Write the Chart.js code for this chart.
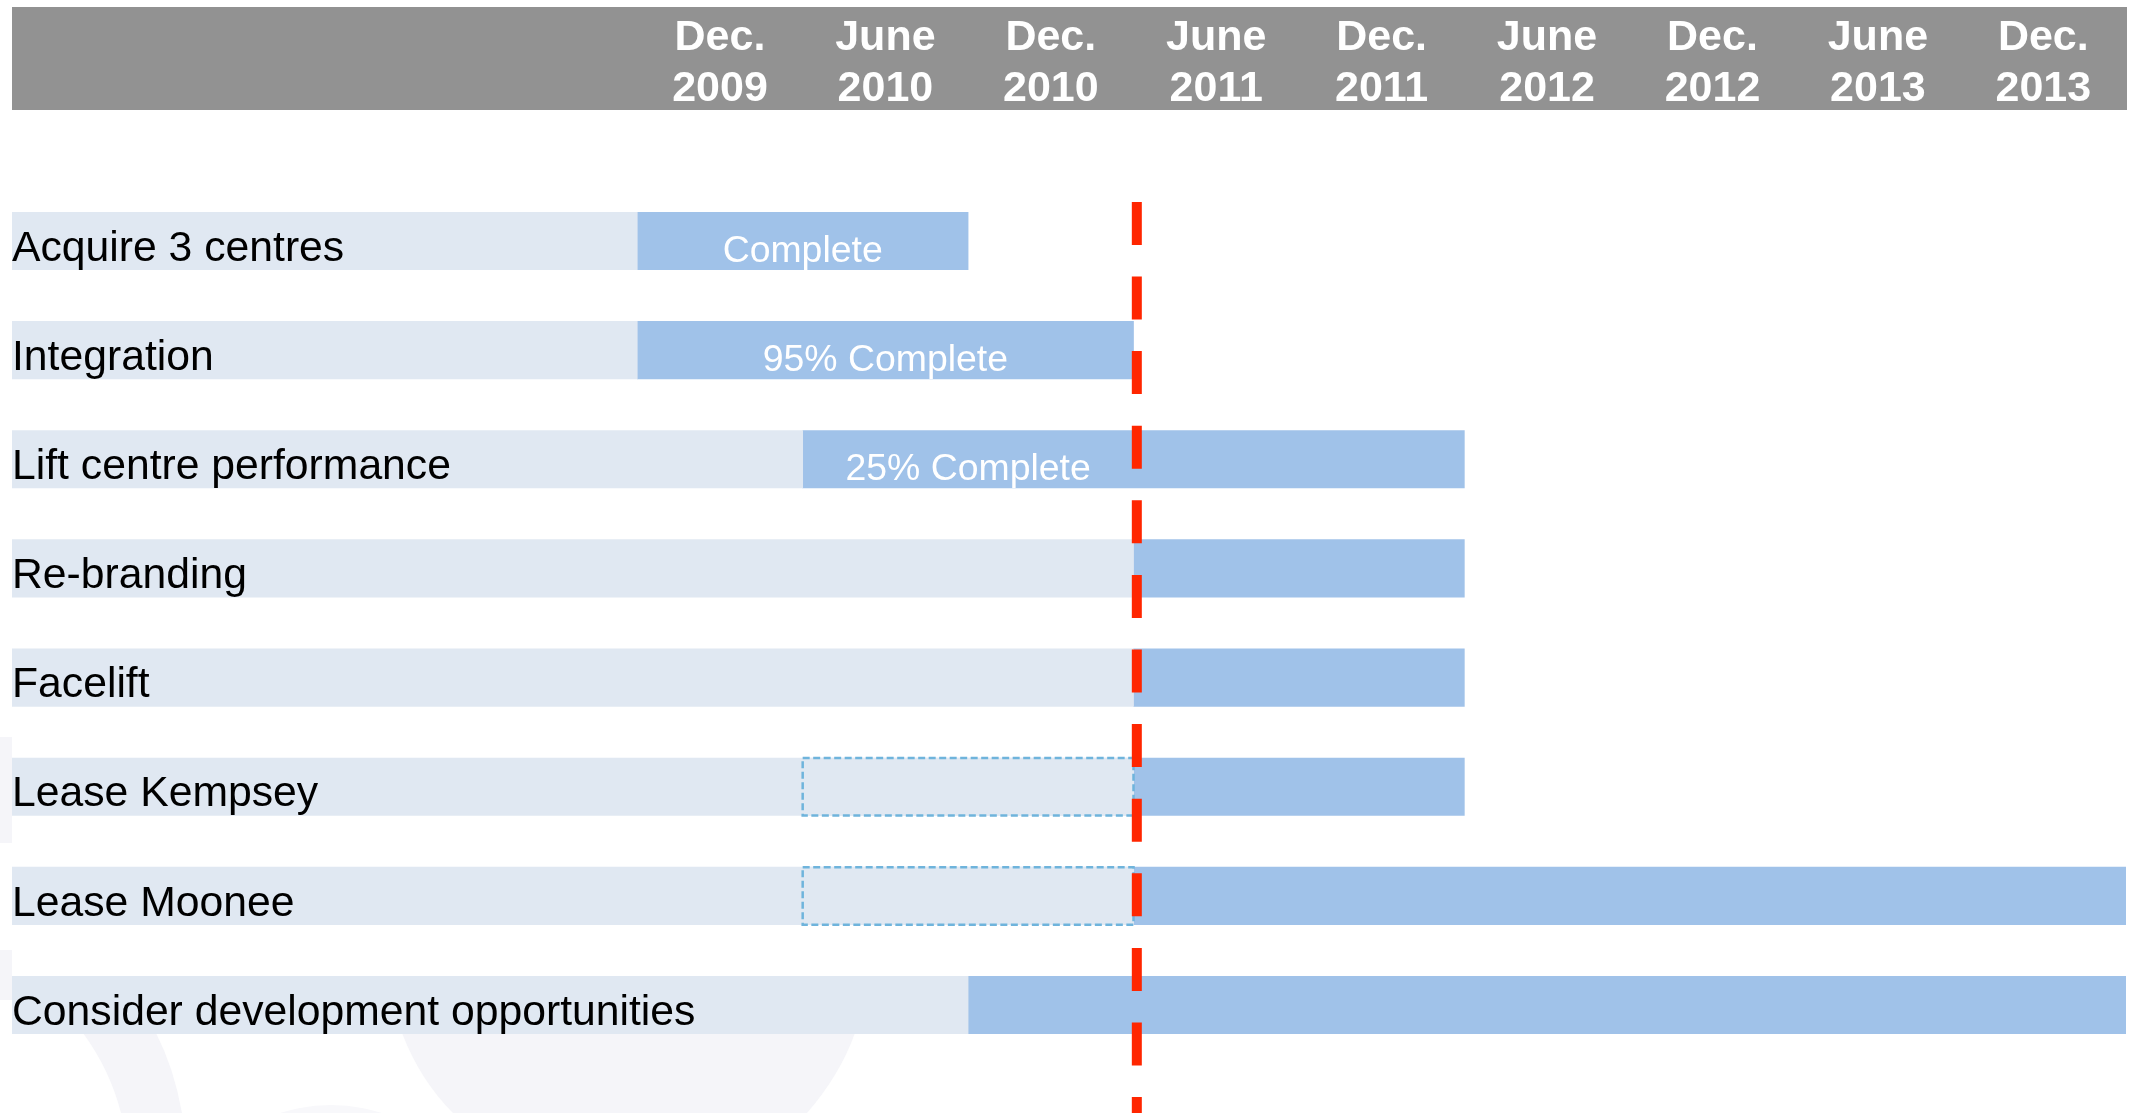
<!DOCTYPE html>
<html><head><meta charset="utf-8">
<script src="https://cdn.jsdelivr.net/npm/chart.js@4.4.1/dist/chart.umd.min.js"></script>
<style>html,body{margin:0;padding:0;background:#fff;overflow:hidden}canvas{display:block}</style>
</head><body>
<canvas id="c" width="2131" height="1113"></canvas>
<script>
// ---- data ----
const tasks = ["Acquire 3 centres","Integration","Lift centre performance","Re-branding","Facelift","Lease Kempsey","Lease Moonee","Consider development opportunities"];
const periodLabels = [["Dec.","2009"],["June","2010"],["Dec.","2010"],["June","2011"],["Dec.","2011"],["June","2012"],["Dec.","2012"],["June","2013"],["Dec.","2013"]];
// period boundaries: 0 = start of Dec. 2009 column ... 9 = end of Dec. 2013 column
const taskStart = [0,0,1,3,3,3,3,2];
const taskEnd   = [2,3,5,5,5,5,9,9];
const plannedStart = [null,null,null,null,null,1,1,null];
const plannedEnd   = [null,null,null,null,null,3,3,null];
const progressText = ["Complete","95% Complete","25% Complete","","","","",""];
const progressFrom = [0,0,1,null,null,null,null,null];
const progressTo   = [2,3,3,null,null,null,null,null];
const todayMarker = 3.02;
const axisStart = -3.78;
const axisEnd = 9;

const FONT = '"Liberation Sans", Arial, Helvetica, sans-serif';
const LIGHT = '#E0E8F2';
const DARK = '#A0C2E9';

const ganttPlugin = {
  id: 'gantt',
  beforeDraw(chart) {
    const ctx = chart.ctx, ca = chart.chartArea;
    ctx.save();
    ctx.fillStyle = '#ffffff';
    ctx.fillRect(0, 0, chart.width, chart.height);
    // faint watermark
    ctx.fillStyle = '#F5F5F9';
    ctx.beginPath();
    ctx.moveTo(83, 1033); ctx.quadraticCurveTo(110, 1070, 121, 1113);
    ctx.lineTo(182, 1113); ctx.quadraticCurveTo(174, 1068, 156, 1033); ctx.closePath(); ctx.fill();
    ctx.beginPath();
    ctx.moveTo(402, 1033); ctx.quadraticCurveTo(420, 1080, 453, 1113);
    ctx.lineTo(807, 1113); ctx.quadraticCurveTo(840, 1075, 855, 1033); ctx.closePath(); ctx.fill();
    ctx.fillStyle = '#F8F8FB';
    ctx.beginPath(); ctx.arc(331, 1271, 166, 0, Math.PI * 2); ctx.fill();
    ctx.fillStyle = '#F5F5F9';
    ctx.fillRect(0, 737, 12, 106);
    ctx.fillRect(0, 950, 12, 50);
    // header band
    ctx.fillStyle = '#929292';
    ctx.fillRect(ca.left, 7, ca.right + 1 - ca.left, 103);
    ctx.restore();
  },
  afterDatasetsDraw(chart) {
    const ctx = chart.ctx, ca = chart.chartArea;
    const xs = chart.scales.x, ys = chart.scales.y;
    ctx.save();
    // dashed planned boxes
    const meta = chart.getDatasetMeta(1);
    ctx.strokeStyle = '#6FB4DC';
    ctx.lineWidth = 2.5;
    ctx.setLineDash([7, 3.5]);
    meta.data.forEach((el, i) => {
      if (plannedStart[i] == null) return;
      const p = el.getProps(['x', 'y', 'base', 'height'], true);
      const l = Math.min(p.x, p.base), w = Math.abs(p.x - p.base);
      ctx.strokeRect(l, p.y - p.height / 2, w, p.height);
    });
    // progress labels
    ctx.setLineDash([]);
    ctx.fillStyle = '#ffffff';
    ctx.font = '37.4px ' + FONT;
    ctx.textAlign = 'center';
    ctx.textBaseline = 'middle';
    progressText.forEach((t, i) => {
      if (!t) return;
      const cx = xs.getPixelForValue((progressFrom[i] + progressTo[i]) / 2);
      const cy = ys.getPixelForValue(i) + 10.5;
      ctx.fillText(t, cx, cy);
    });
    // today marker
    const tx = xs.getPixelForValue(todayMarker);
    ctx.strokeStyle = '#FF2600';
    ctx.lineWidth = 10;
    ctx.lineCap = 'butt';
    ctx.setLineDash([43, 31.6]);
    ctx.beginPath();
    ctx.moveTo(tx, ca.top + 15.5);
    ctx.lineTo(tx, chart.height);
    ctx.stroke();
    ctx.restore();
  }
};

new Chart(document.getElementById('c'), {
  type: 'bar',
  data: {
    labels: tasks,
    datasets: [
      { label: 'label area', data: tasks.map((t, i) => [axisStart, taskStart[i]]), backgroundColor: LIGHT },
      { label: 'planned', data: tasks.map((t, i) => plannedStart[i] == null ? null : [plannedStart[i], plannedEnd[i]]), backgroundColor: LIGHT },
      { label: 'schedule', data: tasks.map((t, i) => [taskStart[i], taskEnd[i]]), backgroundColor: DARK }
    ]
  },
  options: {
    indexAxis: 'y',
    responsive: false,
    animation: false,
    devicePixelRatio: 1,
    datasets: { bar: { grouped: false, barThickness: 57.5, borderWidth: 0, borderSkipped: false } },
    layout: { padding: { left: 12, right: 5, top: 0, bottom: 53.4 } },
    plugins: { legend: { display: false }, tooltip: { enabled: false } },
    scales: {
      x: {
        type: 'linear', position: 'top', min: axisStart, max: axisEnd,
        grid: { display: false, drawTicks: true, tickLength: 72 }, border: { display: false },
        afterFit(s) { s.height = 186.4; s.paddingLeft = 0; s.paddingRight = 0; },
        afterBuildTicks(s) { s.ticks = periodLabels.map((_, i) => ({ value: i + 0.5 })); },
        ticks: {
          autoSkip: false, maxRotation: 0, minRotation: 0, padding: 0,
          color: '#ffffff',
          font: { family: FONT, size: 43, weight: 'bold', lineHeight: 1.19 },
          callback: (v, i) => periodLabels[i]
        }
      },
      y: {
        type: 'category', position: 'left',
        grid: { display: false, drawTicks: false }, border: { display: false },
        afterFit(s) { s.width = 0; },
        ticks: {
          mirror: true, padding: 0, labelOffset: 8, z: 1,
          color: '#000000',
          font: { family: FONT, size: 42.7 }
        }
      }
    }
  },
  plugins: [ganttPlugin]
});
</script>
</body></html>
